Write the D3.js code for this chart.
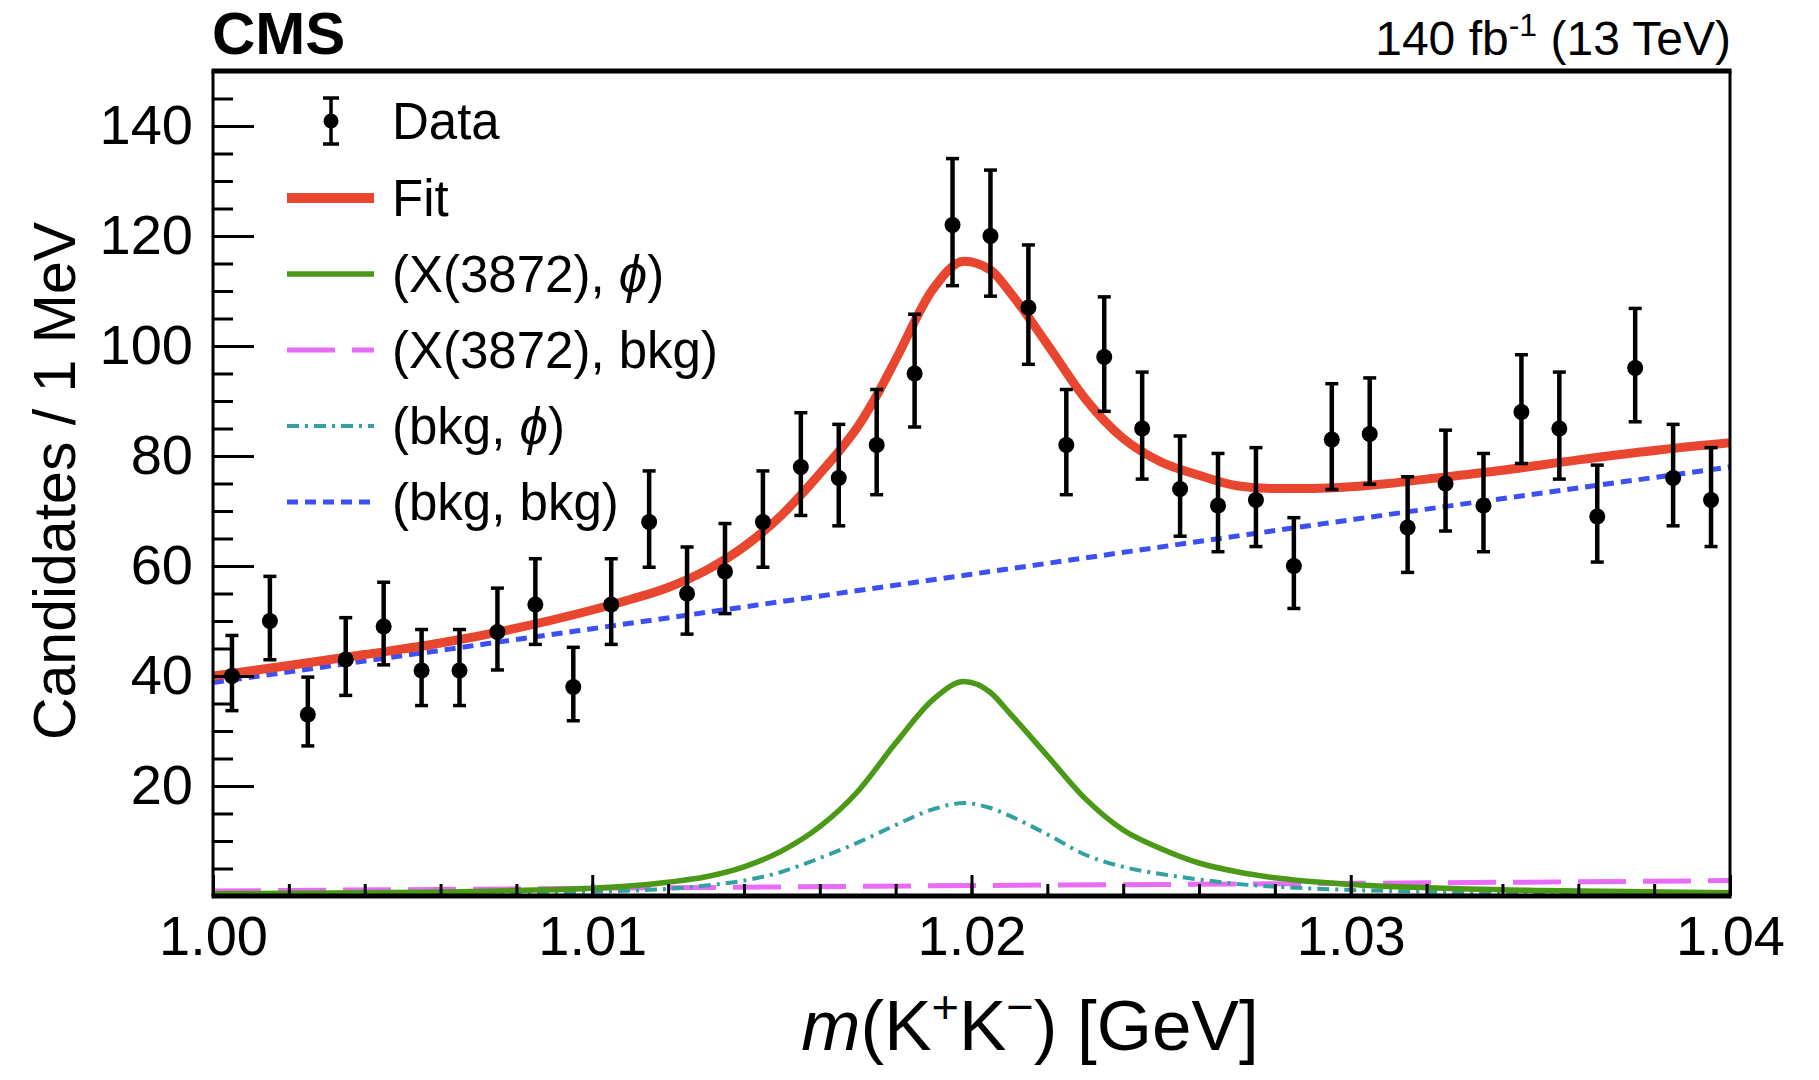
<!DOCTYPE html>
<html>
<head>
<meta charset="utf-8">
<script src="https://cdn.jsdelivr.net/npm/d3@7"></script>
<style>
  body { margin: 0; background: #fff; }
  svg { display: block; }
  text { font-family: "Liberation Sans", Arial, Helvetica, sans-serif; fill: #000; }
</style>
</head>
<body>
<svg id="chart" width="1819" height="1080"></svg>
<script>
// ---- data: m(K+K-) spectrum, 1 MeV bins ----
const binCenters = [1.0005,1.0015,1.0025,1.0035,1.0045,1.0055,1.0065,1.0075,1.0085,1.0095,
                    1.0105,1.0115,1.0125,1.0135,1.0145,1.0155,1.0165,1.0175,1.0185,1.0195,
                    1.0205,1.0215,1.0225,1.0235,1.0245,1.0255,1.0265,1.0275,1.0285,1.0295,
                    1.0305,1.0315,1.0325,1.0335,1.0345,1.0355,1.0365,1.0375,1.0385,1.0395];
const counts = [40,50,33,43,49,41,41,48,53,38,
                53,68,55,59,68,78,76,82,95,122,
                120,107,82,98,85,74,71,72,60,83,
                84,67,75,71,88,85,69,96,76,72];

// ---- fit curves (total and components) ----
const fitMass  = [1.000,1.002,1.004,1.006,1.008,1.010,1.011,1.012,1.013,1.014,1.015,1.0155,1.016,1.0165,1.017,1.0175,1.018,1.019,1.0198,
                  1.0205,1.021,1.022,1.023,1.024,1.025,1.026,1.027,1.028,1.029,1.030,1.031,1.032,1.034,1.036,1.038,1.040];
const fitYield = [40.0,41.9,43.9,46.0,48.7,52.0,53.9,56.1,59.2,63.5,69.3,72.9,76.8,80.8,85.3,91.0,97.5,110.5,115.4,
                  113.8,109.9,100.3,90.4,83.2,78.9,76.5,74.6,74.1,74.1,74.4,75.0,75.8,77.4,79.3,81.0,82.4];

const xPhiMass  = [1.000,1.004,1.008,1.010,1.012,1.013,1.014,1.015,1.016,1.017,1.018,1.019,1.0198,
                   1.0205,1.021,1.022,1.023,1.024,1.025,1.026,1.027,1.028,1.030,1.032,1.035,1.040];
const xPhiYield = [0.4,0.6,1.0,1.4,2.5,3.5,5.3,8.2,12.6,19.0,27.8,35.8,39.0,
                   37.0,33.3,25.5,17.7,12.0,8.6,6.0,4.4,3.3,2.1,1.5,1.0,0.6];

const xBkgMass  = [1.000,1.010,1.020,1.030,1.040];
const xBkgYield = [0.9,1.4,1.9,2.3,2.8];

const bkgPhiMass  = [1.000,1.006,1.010,1.012,1.013,1.014,1.015,1.016,1.017,1.018,1.019,1.0198,
                     1.0205,1.021,1.022,1.023,1.024,1.025,1.026,1.027,1.028,1.030,1.033,1.036,1.040];
const bkgPhiYield = [0.2,0.4,0.8,1.3,1.9,2.8,4.4,6.9,9.7,12.9,15.8,16.9,
                     16.0,14.6,11.2,7.5,5.3,4.0,3.0,2.2,1.7,1.1,0.7,0.5,0.3];

const bkgBkgMass  = [1.000,1.010,1.020,1.030,1.040];
const bkgBkgYield = [38.8,48.6,58.5,68.4,78.0];

// ---- axes ----
const xMajorTicks = [1.00,1.01,1.02,1.03,1.04];
const yMajorTicks = [20,40,60,80,100,120,140];
const legendLabels = ["Data","Fit","(X(3872), \u03D5)","(X(3872), bkg)","(bkg, \u03D5)","(bkg, bkg)"];

// ---- layout ----
const frame = { left: 213, right: 1730, top: 71, bottom: 896 };
const svg = d3.select("#chart");

const x = d3.scaleLinear().domain([1.00, 1.04]).range([frame.left, frame.right]);
const y = d3.scaleLinear().domain([0, 150]).range([frame.bottom, frame.top]);

svg.append("rect").attr("width", 1819).attr("height", 1080).attr("fill", "#fff");

svg.append("clipPath").attr("id", "plotArea")
  .append("rect")
  .attr("x", frame.left).attr("y", frame.top)
  .attr("width", frame.right - frame.left).attr("height", frame.bottom - frame.top);

// Poisson (Garwood) 68% interval, Wilson-Hilferty approximation
function poissonLow(n) {
  if (n === 0) return 0;
  const v = n * Math.pow(1 - 1 / (9 * n) - 1 / (3 * Math.sqrt(n)), 3);
  return n - v;
}
function poissonHigh(n) {
  const m = n + 1;
  const v = m * Math.pow(1 - 1 / (9 * m) + 1 / (3 * Math.sqrt(m)), 3);
  return v - n;
}

// ---- curve styles ----
const styles = {
  fit:    { color: "#e8462f", width: 9,   dash: null },
  xPhi:   { color: "#4b9a17", width: 5.5, dash: null },
  xBkg:   { color: "#e86cf6", width: 5,   dash: "48 17" },
  bkgPhi: { color: "#33a0a2", width: 4,   dash: "12 6 3 6" },
  bkgBkg: { color: "#3c50f6", width: 5,   dash: "11 7" }
};

const line = d3.line()
  .x(d => x(d[0]))
  .y(d => y(d[1]))
  .curve(d3.curveMonotoneX);

const curves = svg.append("g").attr("clip-path", "url(#plotArea)");
function drawCurve(masses, yields, st) {
  curves.append("path")
    .datum(d3.zip(masses, yields))
    .attr("d", line)
    .attr("fill", "none")
    .attr("stroke", st.color)
    .attr("stroke-width", st.width)
    .attr("stroke-dasharray", st.dash)
    .attr("stroke-linejoin", "round");
}
drawCurve(bkgBkgMass, bkgBkgYield, styles.bkgBkg);
drawCurve(xBkgMass, xBkgYield, styles.xBkg);
drawCurve(bkgPhiMass, bkgPhiYield, styles.bkgPhi);
drawCurve(xPhiMass, xPhiYield, styles.xPhi);
drawCurve(fitMass, fitYield, styles.fit);

// ---- data points with error bars ----
const points = binCenters.map((m, i) => ({
  m, n: counts[i], lo: poissonLow(counts[i]), hi: poissonHigh(counts[i])
}));
const dataG = svg.append("g");
const capHalf = 6.5;
dataG.selectAll("line.bar").data(points).join("line")
  .attr("class", "bar")
  .attr("x1", d => x(d.m)).attr("x2", d => x(d.m))
  .attr("y1", d => y(d.n - d.lo)).attr("y2", d => y(d.n + d.hi))
  .attr("stroke", "#000").attr("stroke-width", 4.5);
dataG.selectAll("line.capHi").data(points).join("line")
  .attr("class", "capHi")
  .attr("x1", d => x(d.m) - capHalf).attr("x2", d => x(d.m) + capHalf)
  .attr("y1", d => y(d.n + d.hi)).attr("y2", d => y(d.n + d.hi))
  .attr("stroke", "#000").attr("stroke-width", 3.5);
dataG.selectAll("line.capLo").data(points).join("line")
  .attr("class", "capLo")
  .attr("x1", d => x(d.m) - capHalf).attr("x2", d => x(d.m) + capHalf)
  .attr("y1", d => y(d.n - d.lo)).attr("y2", d => y(d.n - d.lo))
  .attr("stroke", "#000").attr("stroke-width", 3.5);
dataG.selectAll("circle").data(points).join("circle")
  .attr("cx", d => x(d.m)).attr("cy", d => y(d.n)).attr("r", 8)
  .attr("fill", "#000");

// ---- axes (ticks point into the frame) ----
const yMinor = d3.range(5, 150, 5);
const xMinor = d3.range(0, 21).map(i => 1.00 + i * 0.002);

const yMinorAxis = svg.append("g").attr("transform", `translate(${frame.left},0)`)
  .call(d3.axisLeft(y).tickValues(yMinor).tickSize(-20).tickFormat(""));
const yAxis = svg.append("g").attr("transform", `translate(${frame.left},0)`)
  .call(d3.axisLeft(y).tickValues(yMajorTicks).tickSize(-41).tickPadding(20).tickFormat(d3.format("d")));
const xMinorAxis = svg.append("g").attr("transform", `translate(0,${frame.bottom})`)
  .call(d3.axisBottom(x).tickValues(xMinor).tickSize(-12).tickFormat(""));
const xAxis = svg.append("g").attr("transform", `translate(0,${frame.bottom})`)
  .call(d3.axisBottom(x).tickValues(xMajorTicks).tickSize(-21).tickPadding(19).tickFormat(d3.format(".2f")));

[yMinorAxis, yAxis, xMinorAxis, xAxis].forEach(g => {
  g.select(".domain").remove();
  g.selectAll(".tick line").attr("stroke", "#000").attr("stroke-width", 3);
  g.selectAll(".tick text").attr("font-size", 56).attr("font-family", "Liberation Sans, Arial, sans-serif").attr("fill", "#000");
});

// ---- frame ----
const frameG = svg.append("g").attr("stroke", "#000").attr("fill", "none");
frameG.append("line").attr("x1", frame.left - 1.5).attr("x2", frame.right + 1.5)
  .attr("y1", frame.top).attr("y2", frame.top).attr("stroke-width", 5);
frameG.append("line").attr("x1", frame.left - 1.5).attr("x2", frame.right + 1.5)
  .attr("y1", frame.bottom).attr("y2", frame.bottom).attr("stroke-width", 5);
frameG.append("line").attr("x1", frame.left).attr("x2", frame.left)
  .attr("y1", frame.top).attr("y2", frame.bottom).attr("stroke-width", 3);
frameG.append("line").attr("x1", frame.right).attr("x2", frame.right)
  .attr("y1", frame.top).attr("y2", frame.bottom).attr("stroke-width", 3);

// ---- axis titles ----
svg.append("text")
  .attr("transform", "translate(75,481) rotate(-90)")
  .attr("text-anchor", "middle")
  .attr("font-size", 59)
  .text("Candidates / 1 MeV");

const xTitle = svg.append("text")
  .attr("x", 1030).attr("y", 1050)
  .attr("text-anchor", "middle")
  .attr("font-size", 71);
xTitle.append("tspan").attr("font-style", "italic").text("m");
xTitle.append("tspan").text("(K");
xTitle.append("tspan").attr("font-size", 47).attr("dy", -27).text("+");
xTitle.append("tspan").attr("dy", 27).text("K");
xTitle.append("tspan").attr("font-size", 47).attr("dy", -27).text("\u2212");
xTitle.append("tspan").attr("dy", 27).text(") [GeV]");

// ---- header texts ----
svg.append("text").attr("x", 212).attr("y", 54)
  .attr("font-size", 60).attr("font-weight", "bold").text("CMS");

const lumi = svg.append("text").attr("x", 1731).attr("y", 55)
  .attr("text-anchor", "end").attr("font-size", 48);
lumi.append("tspan").text("140 fb");
lumi.append("tspan").attr("font-size", 32).attr("dy", -19).text("-1");
lumi.append("tspan").attr("dy", 19).text(" (13 TeV)");

// ---- legend ----
const legendRows = [121, 198, 274, 350, 426, 502];
const legendKeys = ["data", "fit", "xPhi", "xBkg", "bkgPhi", "bkgBkg"];
const legend = svg.append("g");
legendKeys.forEach((key, i) => {
  const cy = legendRows[i];
  if (key === "data") {
    legend.append("line").attr("x1", 331).attr("x2", 331)
      .attr("y1", cy - 23).attr("y2", cy + 23).attr("stroke", "#000").attr("stroke-width", 3.5);
    [cy - 23, cy + 23].forEach(cyy => legend.append("line")
      .attr("x1", 331 - 8).attr("x2", 331 + 8).attr("y1", cyy).attr("y2", cyy)
      .attr("stroke", "#000").attr("stroke-width", 3.5));
    legend.append("circle").attr("cx", 331).attr("cy", cy).attr("r", 7.5).attr("fill", "#000");
  } else {
    const st = styles[key];
    legend.append("line").attr("x1", 287).attr("x2", 374)
      .attr("y1", cy).attr("y2", cy)
      .attr("stroke", st.color)
      .attr("stroke-width", key === "fit" ? 10 : st.width)
      .attr("stroke-dasharray", st.dash);
  }
  const t = legend.append("text").attr("x", 392).attr("y", cy).attr("dy", "0.36em").attr("font-size", 51);
  legendLabels[i].split(/(\u03D5)/).forEach(part => {
    if (!part) return;
    const ts = t.append("tspan").text(part);
    if (part === "\u03D5") ts.attr("font-style", "italic");
  });
});
</script>
</body>
</html>
